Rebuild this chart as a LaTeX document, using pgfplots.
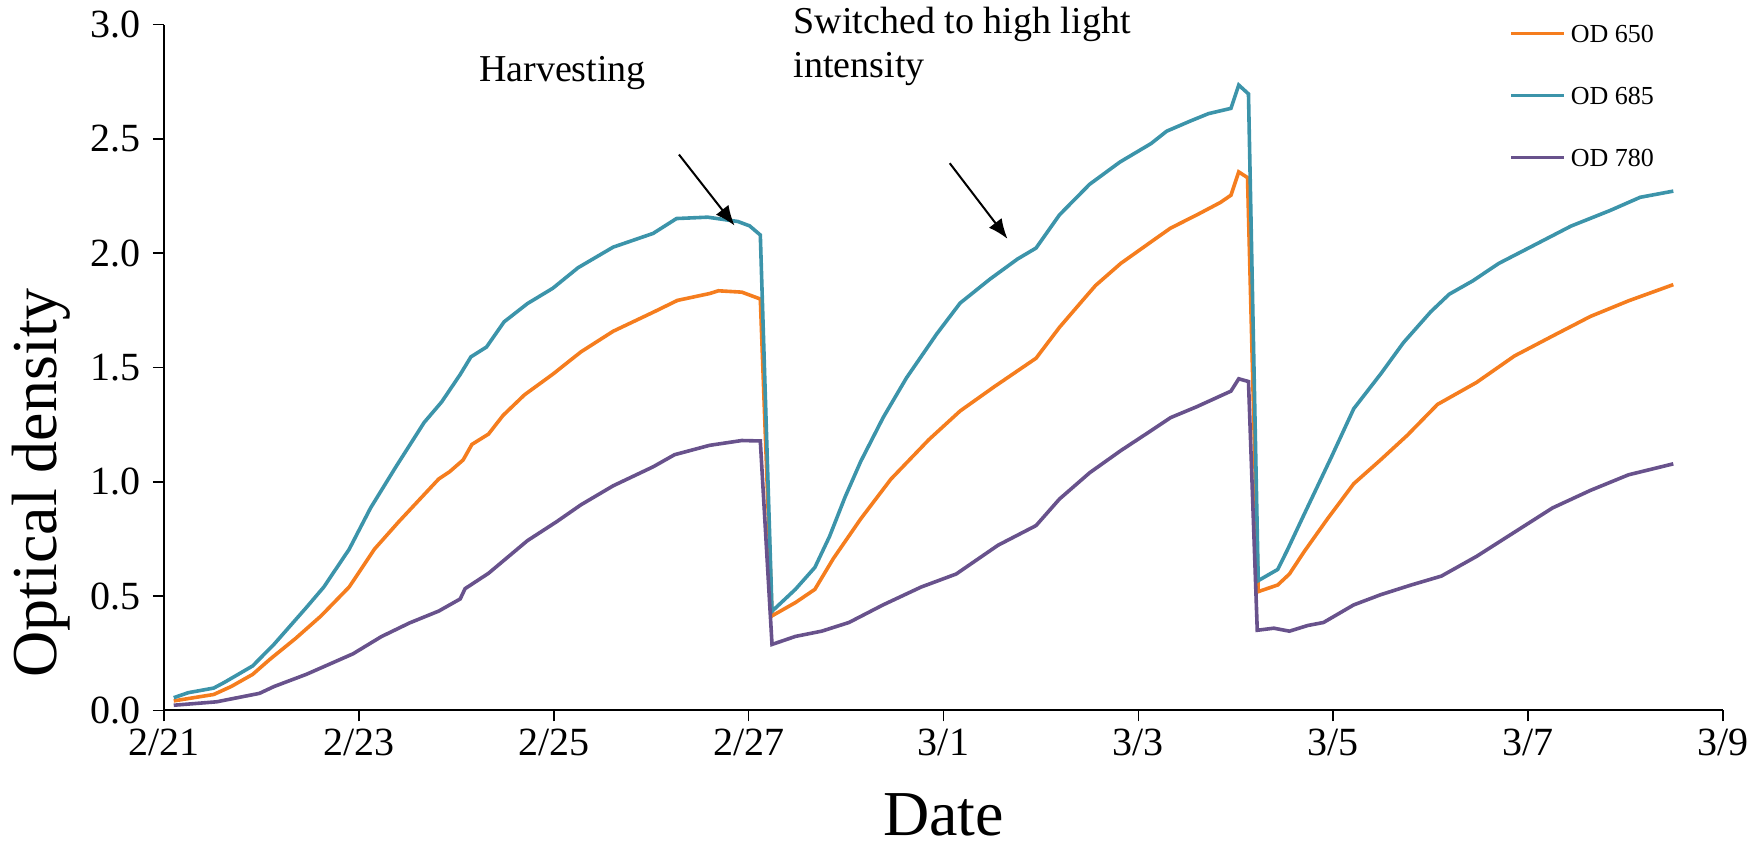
\documentclass[border=0pt]{standalone}
\usepackage{fontspec}
\setmainfont{Liberation Serif}
\usepackage{pgfplots}
\pgfplotsset{compat=1.18}
\usetikzlibrary{arrows.meta}

\definecolor{odorange}{RGB}{245,125,30}
\definecolor{odteal}{RGB}{60,148,170}
\definecolor{odpurple}{RGB}{104,82,140}

\begin{document}
\begin{tikzpicture}
\begin{axis}[
  scale only axis,
  width=779.5pt, height=342.9pt,
  xmin=0, xmax=16, ymin=0, ymax=3,
  axis lines*=left,
  axis line style={line width=1pt, black},
  tick align=outside,
  major tick length=5.5pt,
  every tick/.style={black, line width=0.8pt},
  xtick={0,2,...,16},
  xticklabels={2/21,2/23,2/25,2/27,3/1,3/3,3/5,3/7,3/9},
  ytick={0,0.5,...,3},
  yticklabel style={xshift=-2.5pt, /pgf/number format/.cd, fixed, fixed zerofill, precision=1, assume math mode=true},
  tick label style={font=\fontsize{20}{24}\selectfont},
  xlabel={Date},
  ylabel={Optical density},
  every axis x label/.style={at={([yshift=-52pt]rel axis cs:0.5,0)}, anchor=center, inner sep=0pt, font=\fontsize{32}{36}\selectfont},
  every axis y label/.style={at={([xshift=-61.2pt]rel axis cs:0,0.332)}, anchor=center, rotate=90, inner sep=0pt, font=\fontsize{32}{36}\selectfont},
  clip=false,
  legend cell align=left,
  legend style={at={(rel axis cs:0.8627,1.001)}, anchor=north west, draw=none, fill=none,
    font=\fontsize{13}{15}\selectfont, inner sep=0pt, row sep=22pt, column sep=2.5pt,
    nodes={inner sep=0pt, text height=9pt, text depth=0pt}},
  legend image code/.code={\draw[#1] (0pt,0pt) -- (26.5pt,0pt);},
]
\addplot[odorange, line width=1.8pt] coordinates {
(0.10,0.042) (0.51,0.07) (0.69,0.105) (0.91,0.158) (1.09,0.225) (1.35,0.315)
(1.61,0.413) (1.90,0.54) (2.16,0.706) (2.41,0.826) (2.82,1.013) (2.93,1.044)
(3.07,1.096) (3.16,1.164) (3.33,1.209) (3.48,1.291) (3.70,1.381) (3.99,1.471)
(4.17,1.532) (4.28,1.569) (4.61,1.659) (5.02,1.742) (5.27,1.794) (5.60,1.824)
(5.69,1.836) (5.93,1.830) (6.12,1.80) (6.24,0.414) (6.48,0.472) (6.68,0.53)
(6.87,0.665) (7.15,0.838) (7.46,1.012) (7.85,1.185) (8.17,1.31) (8.52,1.416)
(8.95,1.541) (9.19,1.676) (9.44,1.80) (9.56,1.859) (9.82,1.956) (10.17,2.062)
(10.33,2.11) (10.60,2.168) (10.84,2.222) (10.95,2.254) (11.03,2.356) (11.12,2.331)
(11.23,0.52) (11.43,0.549) (11.55,0.597) (11.70,0.694) (11.94,0.838) (12.21,0.992)
(12.49,1.098) (12.76,1.204) (13.07,1.339) (13.47,1.435) (13.86,1.551) (14.25,1.638)
(14.64,1.724) (15.03,1.792) (15.49,1.863)
};
\addlegendentry{OD 650}
\addplot[odteal, line width=1.8pt] coordinates {
(0.10,0.056) (0.25,0.078) (0.51,0.098) (0.62,0.123) (0.91,0.195) (1.13,0.29)
(1.46,0.45) (1.64,0.54) (1.90,0.705) (2.12,0.886) (2.38,1.066) (2.67,1.26)
(2.85,1.35) (3.04,1.47) (3.15,1.547) (3.31,1.59) (3.49,1.70) (3.73,1.78)
(3.99,1.847) (4.25,1.937) (4.61,2.027) (5.02,2.087) (5.26,2.152) (5.58,2.158)
(5.89,2.139) (6.01,2.12) (6.12,2.08) (6.24,0.434) (6.48,0.53) (6.68,0.626)
(6.83,0.761) (6.99,0.934) (7.15,1.089) (7.38,1.281) (7.62,1.455) (7.93,1.647)
(8.17,1.782) (8.48,1.888) (8.76,1.975) (8.95,2.023) (9.19,2.168) (9.50,2.302)
(9.81,2.399) (10.13,2.48) (10.29,2.534) (10.53,2.578) (10.72,2.611) (10.95,2.634)
(11.03,2.736) (11.13,2.697) (11.23,0.568) (11.43,0.617) (11.53,0.703) (11.70,0.857)
(11.98,1.108) (12.21,1.32) (12.49,1.474) (12.72,1.609) (13.00,1.744) (13.19,1.821)
(13.43,1.879) (13.70,1.956) (14.05,2.033) (14.44,2.119) (14.84,2.187) (15.15,2.245)
(15.49,2.272)
};
\addlegendentry{OD 685}
\addplot[odpurple, line width=1.8pt] coordinates {
(0.10,0.023) (0.54,0.038) (0.98,0.075) (1.13,0.105) (1.46,0.158) (1.94,0.248)
(2.23,0.323) (2.52,0.383) (2.82,0.435) (3.04,0.488) (3.09,0.533) (3.33,0.60)
(3.73,0.743) (4.03,0.826) (4.28,0.90) (4.61,0.983) (5.02,1.066) (5.24,1.119)
(5.60,1.160) (5.93,1.181) (6.12,1.179) (6.24,0.289) (6.48,0.324) (6.75,0.347)
(7.03,0.385) (7.38,0.462) (7.77,0.54) (8.13,0.597) (8.56,0.723) (8.95,0.809)
(9.19,0.925) (9.50,1.04) (9.82,1.137) (10.13,1.224) (10.33,1.281) (10.60,1.329)
(10.95,1.397) (11.03,1.451) (11.13,1.439) (11.22,0.351) (11.39,0.36) (11.55,0.347)
(11.74,0.372) (11.90,0.385) (12.21,0.462) (12.49,0.507) (12.80,0.549) (13.11,0.588)
(13.47,0.674) (13.86,0.78) (14.25,0.886) (14.64,0.963) (15.03,1.031) (15.49,1.079)
};
\addlegendentry{OD 780}

% annotations
\node[font=\fontsize{19}{22.4}\selectfont, anchor=center] at (axis cs:4.09,2.79) {Harvesting};
\node[font=\fontsize{19}{22.4}\selectfont, anchor=west, align=left, inner sep=0pt] at (axis cs:6.46,2.905) {Switched to high light\\intensity};
\draw[line width=1pt, -{Latex[length=10pt,width=8pt]}] (axis cs:5.285,2.432) -- (axis cs:5.856,2.121);
\draw[line width=1pt, -{Latex[length=10pt,width=8pt]}] (axis cs:8.064,2.394) -- (axis cs:8.657,2.063);

\coordinate (bl) at (rel axis cs:0,0);
\coordinate (tr) at (rel axis cs:1,1);
\end{axis}
\pgfresetboundingbox
\path ([xshift=-82pt,yshift=-69.25pt]bl) rectangle ([xshift=18.5pt,yshift=12.35pt]tr);
\end{tikzpicture}
\end{document}
